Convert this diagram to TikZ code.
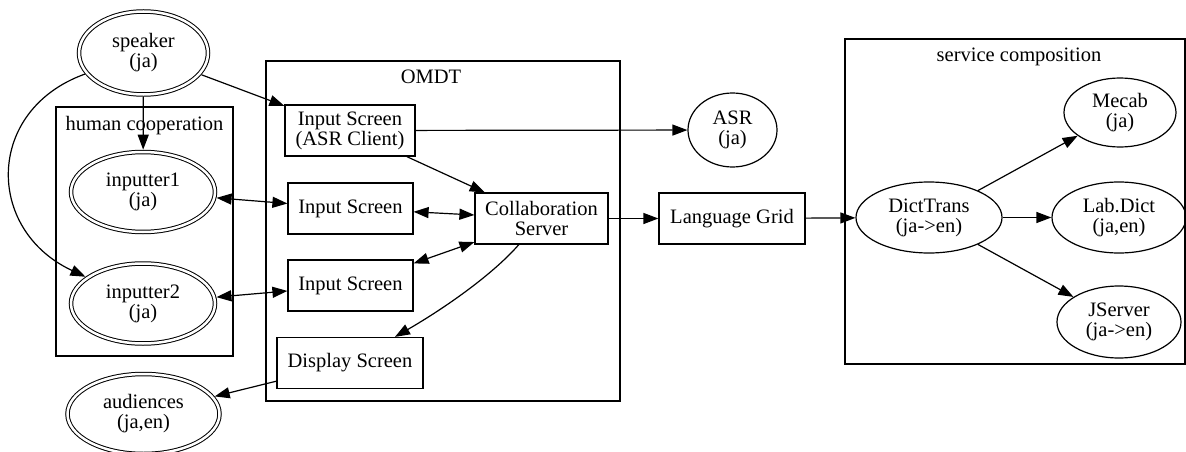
\documentclass[tikz,border=0pt]{standalone}
\usepackage{fontspec}
\setmainfont{Liberation Serif}
\usepackage{tikz}
\usetikzlibrary{shapes,arrows.meta,positioning,calc}

\begin{document}
\begin{tikzpicture}[
    x=1pt, y=-1pt,
    every node/.style={font=\fontsize{20.5}{20}\selectfont, align=center},
    cluster/.style={draw, rectangle, line width=1.2pt, inner sep=0pt},
    box/.style={draw, rectangle, line width=1.2pt, minimum height=51pt, inner sep=2pt},
    svc/.style={draw, ellipse, line width=1.2pt, inner sep=0pt},
    person/.style={draw, ellipse, double, double distance=2.5pt, line width=1pt, inner sep=0pt, outer sep=2.3pt, minimum width=144pt, minimum height=80pt},
    flow/.style={line width=1.2pt, -{Triangle[length=15pt,width=11pt]}},
    twoway/.style={line width=1.2pt, {Triangle[length=15pt,width=11pt]}-{Triangle[length=15pt,width=11pt]}}
]
\useasboundingbox (0,0) rectangle (1186,452);

% Clusters
\node[cluster, minimum width=177pt, minimum height=249pt] (human) at (144.5,231.5) {};
\node[anchor=base] (humanlbl) at (144.5,130) {human cooperation};
\node[cluster, minimum width=354pt, minimum height=340pt] (omdt) at (443,231) {};
\node[anchor=base] (omdtlbl) at (431,84) {OMDT};
\node[cluster, minimum width=340pt, minimum height=325pt] (service) at (1015,201.5) {};
\node[anchor=base] (servicelbl) at (1019,62) {service composition};

% People
\node[person, minimum width=129pt, minimum height=83pt] (speaker) at (143.5,53) {speaker\\(ja)};
\node[person] (inputter1) at (143,192) {inputter1\\(ja)};
\node[person] (inputter2) at (143,303.5) {inputter2\\(ja)};
\node[person, minimum width=152pt] (audiences) at (143.5,414) {audiences\\(ja,en)};

% OMDT
\node[box, minimum width=130pt] (asrclient) at (350,130.5) {Input Screen\\(ASR Client)};
\node[box, minimum width=125pt] (input1) at (350.5,208.5) {Input Screen};
\node[box, minimum width=125pt] (input2) at (350.5,285.5) {Input Screen};
\node[box, minimum width=146pt] (display) at (350,363) {Display Screen};
\node[box, minimum width=133pt] (collab) at (541.5,218.5) {Collaboration\\Server};

% Services
\node[svc, minimum width=89pt, minimum height=74pt] (asr) at (732.5,130) {ASR\\(ja)};
\node[box, minimum width=146pt] (grid) at (732,218.5) {Language Grid};
\node[svc, minimum width=146pt, minimum height=71pt] (dicttrans) at (929,217.5) {DictTrans\\(ja->en)};
\node[svc, minimum width=112pt, minimum height=69pt] (mecab) at (1120,112.5) {Mecab\\(ja)};
\node[svc, minimum width=134pt, minimum height=71pt] (labdict) at (1119,217.5) {Lab.Dict\\(ja,en)};
\node[svc, minimum width=124pt, minimum height=72pt] (jserver) at (1119,322) {JServer\\(ja->en)};

% Edges
\draw[flow] (speaker) -- (asrclient);
\draw[flow] (speaker) -- (inputter1);
\draw[flow] (speaker) .. controls (-15,110) and (-15,230) .. (inputter2);
\draw[twoway] (inputter1) -- (input1);
\draw[twoway] (inputter2) -- (input2);
\draw[flow] (asrclient) -- (asr);
\draw[flow] (asrclient) -- (collab);
\draw[twoway] (input1) -- (collab);
\draw[twoway] (input2) -- (collab);
\draw[flow] (collab) .. controls (495,272) and (450,305) .. (display);
\draw[flow] (display) -- (audiences);
\draw[flow] (collab) -- (grid);
\draw[flow] (grid) -- (dicttrans);
\draw[flow] (dicttrans) -- (mecab);
\draw[flow] (dicttrans) -- (labdict);
\draw[flow] (dicttrans) -- (jserver);

\end{tikzpicture}
\end{document}
